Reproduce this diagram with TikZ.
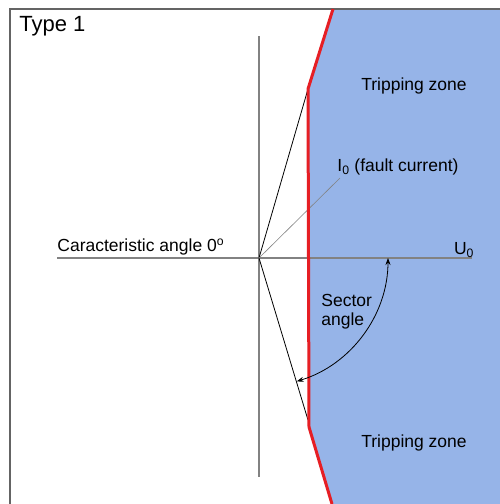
\documentclass[tikz,border=0pt]{standalone}
\usepackage{fontspec}
\setmainfont{Liberation Sans}
\usetikzlibrary{arrows.meta}
\definecolor{zoneblue}{RGB}{150,180,232}
\definecolor{limitred}{RGB}{230,30,36}
\definecolor{axisgray}{RGB}{130,130,130}
\definecolor{framegray}{RGB}{100,100,100}
\begin{document}
\begin{tikzpicture}[x=1pt, y=-1pt, line width=0.8pt,
  lbl/.style={font=\fontsize{17.5}{19}\selectfont, inner sep=0pt},
  axisline/.style={draw=axisgray, line width=1.5pt}]
  \useasboundingbox (0,0) rectangle (500,504);
  \coordinate (O) at (259.000,258.000);
  \coordinate (rtop) at (333.000,9.000);
  \coordinate (rk1) at (308.000,89.000);
  \coordinate (rk2) at (309.000,427.000);
  \coordinate (rbot) at (332.000,504.000);
  \coordinate (lowhit) at (308.000,420.000);
  \coordinate (ihead) at (340.000,178.000);
  \coordinate (arcstart) at (388.000,258.000);
  % tripping zone
  \fill[zoneblue] (rtop) -- (500.000,9.000) -- (500.000,504.000) -- (rbot) -- (rk2) -- (rk1) -- cycle;
  \draw[framegray, line width=1.5pt] (10.000,504.000) -- (10.000,9.000) -- (500.000,9.000);
  % axes
  \draw[axisline] (259.000,36.000) -- (259.000,477.000);
  \draw[axisline] (57.000,258.000) -- (472.000,258.000);
  \draw (O) -- (rk1);
  \draw (O) -- (lowhit);
  \draw[axisgray, line width=0.6pt] (O) -- (ihead);
  \draw[limitred, line width=3pt] (rtop) -- (rk1) -- (rk2) -- (rbot);
  \draw[line width=0.8pt, {Stealth[length=7pt,width=5pt]}-{Stealth[length=7pt,width=5pt]}] (arcstart) arc[start angle=0.000, end angle=73.000, radius=129.000];
  \node[font=\fontsize{22}{24}\selectfont, inner sep=0pt, anchor=west] (type) at (19.000,26.000) {Type 1};
  \node[lbl] (zonetop) at (414.000,86.000) {Tripping zone};
  \node[lbl] (zonebot) at (414.000,443.000) {Tripping zone};
  \node[lbl, anchor=west] (ilbl) at (337.000,167.000) {I\textsubscript{0} (fault current)};
  \node[lbl] (ulbl) at (464.000,250.000) {U\textsubscript{0}};
  \node[lbl, anchor=west] (charlbl) at (57.000,247.000) {Caracteristic angle 0\textsuperscript{o}};
  \node[lbl, anchor=west, align=left] (sector) at (321.000,312.000) {Sector\\angle};
\end{tikzpicture}
\end{document}
